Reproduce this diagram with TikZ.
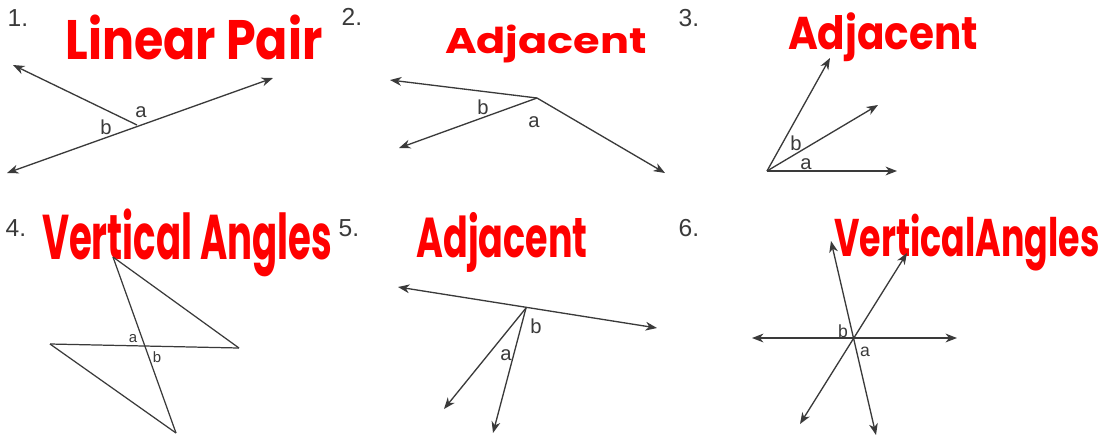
\documentclass[tikz,border=0pt]{standalone}
\usepackage{fontspec}
\setsansfont{Liberation Sans}
\newfontfamily\handfont{Poppins}
\usetikzlibrary{arrows.meta}
\definecolor{ink}{HTML}{3A3A3A}
\definecolor{marker}{HTML}{FF0000}
\tikzset{
  ray/.style={draw=ink, line width=0.75pt, -{Stealth[length=6.5pt,width=5pt,inset=2pt]}},
  dline/.style={draw=ink, line width=0.75pt, {Stealth[length=6.5pt,width=5pt,inset=2pt]}-{Stealth[length=6.5pt,width=5pt,inset=2pt]}},
  seg/.style={draw=ink, line width=0.7pt},
  num/.style={text=ink, font=\sffamily\fontsize{14}{14}\selectfont, inner sep=0pt},
  lab/.style={text=ink, font=\sffamily\fontsize{11.5}{11.5}\selectfont, inner sep=0pt},
  labs/.style={text=ink, font=\sffamily\fontsize{8.5}{8.5}\selectfont, inner sep=0pt},
  labm/.style={text=ink, font=\sffamily\fontsize{10}{10}\selectfont, inner sep=0pt},
  hand/.style={text=marker, inner sep=0pt}
}
\newcommand{\hw}[3]{\resizebox*{#1}{#2}{\handfont\bfseries #3}}
\begin{document}
\begin{tikzpicture}[x=0.02cm,y=-0.02cm]
\useasboundingbox[fill=white] (0,0) rectangle (1110,441);
% numbers
\node[num] (n1) at (18,18) {1.};
\node[num] (n2) at (352,17) {2.};
\node[num] (n3) at (689,18) {3.};
\node[num] (n4) at (16,228) {4.};
\node[num] (n5) at (349,228) {5.};
\node[num] (n6) at (689,228) {6.};
% handwritten answers
\node[hand] (h1) at (194,37) {\hw{5.14cm}{0.9cm}{Linear Pair}};
\node[hand] (h2) at (546,44) {\hw{4.04cm}{0.76cm}{Adjacent}};
\node[hand] (h3) at (883,37) {\hw{3.8cm}{0.98cm}{Adjacent}};
\node[hand] (h4) at (187,243) {\hw{5.8cm}{1.36cm}{Vertical Angles}};
\node[hand] (h5) at (502,242) {\hw{3.42cm}{1.2cm}{Adjacent}};
\node[hand] (h6) at (967,243) {\hw{5.3cm}{1.14cm}{VerticalAngles}};
% panel 1
\coordinate (v1) at (137,125);
\coordinate (p1a) at (13,65);
\coordinate (p1b) at (7,173);
\coordinate (p1c) at (273,78);
\draw[ray] (v1) -- (p1a);
\draw[dline] (p1b) -- (p1c);
\node[lab] (a1) at (141,112) {a};
\node[lab] (b1) at (106,127) {b};
% panel 2
\coordinate (v2) at (537,98);
\coordinate (p2a) at (390,80);
\coordinate (p2b) at (399,148);
\coordinate (p2c) at (665,173);
\draw[ray] (v2) -- (p2a);
\draw[ray] (v2) -- (p2b);
\draw[ray] (v2) -- (p2c);
\node[lab] (b2) at (483,107) {b};
\node[lab] (a2) at (534,122) {a};
% panel 3
\coordinate (v3) at (767,171);
\coordinate (p3a) at (830,58);
\coordinate (p3b) at (878,105);
\coordinate (p3c) at (897,171);
\draw[ray] (v3) -- (p3a);
\draw[ray] (v3) -- (p3b);
\draw[ray] (v3) -- (p3c);
\node[lab] (b3) at (796,143) {b};
\node[lab] (a3) at (806,164) {a};
% panel 4
\coordinate (t4) at (113,257);
\coordinate (d4) at (176,433);
\coordinate (r4) at (239,348);
\coordinate (l4) at (50,344);
\draw[seg] (t4) -- (d4);
\draw[seg] (t4) -- (r4);
\draw[seg] (l4) -- (r4);
\draw[seg] (l4) -- (d4);
\node[labs] (a4) at (133,339) {a};
\node[labs] (b4) at (157,357) {b};
% panel 5
\coordinate (v5) at (526,308);
\coordinate (p5l) at (398,287);
\coordinate (p5r) at (657,328);
\coordinate (p5a) at (444,409);
\coordinate (p5b) at (493,433);
\draw[dline] (p5l) -- (p5r);
\draw[ray] (v5) -- (p5a);
\draw[ray] (v5) -- (p5b);
\node[lab] (b5) at (536,326) {b};
\node[lab] (a5) at (506,355) {a};
% panel 6
\coordinate (p6l) at (752,338);
\coordinate (p6r) at (957,338);
\coordinate (p6t) at (831,241);
\coordinate (p6d) at (876,435);
\coordinate (p6u) at (907,253);
\coordinate (p6e) at (800,424);
\draw[dline] (p6l) -- (p6r);
\draw[dline] (p6t) -- (p6d);
\draw[dline] (p6e) -- (p6u);
\node[labm] (b6) at (843,331) {b};
\node[labm] (a6) at (865,352) {a};
\end{tikzpicture}
\end{document}
